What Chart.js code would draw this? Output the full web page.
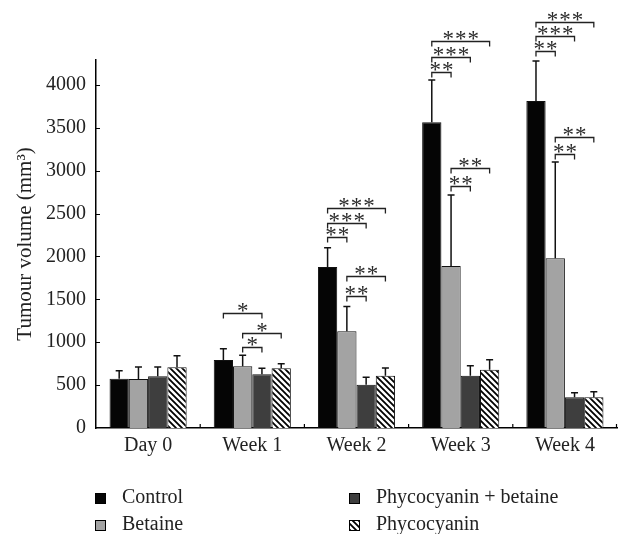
<!DOCTYPE html>
<html>
<head>
<meta charset="utf-8">
<script src="https://cdn.jsdelivr.net/npm/chart.js@4.4.1/dist/chart.umd.min.js"></script>
<style>
  html, body { margin: 0; padding: 0; background: #fff; }
  .chart-box { width: 618px; height: 534px; }
</style>
</head>
<body>
<div class="chart-box"><canvas id="tumourChart"></canvas></div>
<script>
// values (mm^3), error bars are one-sided (upper)
const categories = ['Day 0', 'Week 1', 'Week 2', 'Week 3', 'Week 4'];
const seriesNames = ['Control', 'Betaine', 'Phycocyanin + betaine', 'Phycocyanin'];

const control = [575, 793, 1878, 3565, 3813];
const controlErr = [93, 132, 224, 493, 466];
const betaine = [571, 719, 1127, 1889, 1979];
const betaineErr = [140, 128, 288, 828, 1121];
const phycoBetaine = [603, 626, 505, 610, 358];
const phycoBetaineErr = [108, 70, 86, 116, 54];
const phycocyanin = [708, 696, 610, 680, 358];
const phycocyaninErr = [135, 54, 90, 116, 65];

const yTicks = [0, 500, 1000, 1500, 2000, 2500, 3000, 3500, 4000];

// significance: [category, from series, to series, bracket height, number of stars]
const sigBrackets = [
  [1, 0, 2, 1337, 1],
  [1, 1, 3, 1111, 1],
  [1, 1, 2, 941, 1],
  [2, 0, 1, 2231, 2],
  [2, 0, 2, 2394, 3],
  [2, 0, 3, 2562, 3],
  [2, 1, 2, 1539, 2],
  [2, 1, 3, 1772, 2],
  [3, 0, 1, 4155, 2],
  [3, 0, 2, 4322, 3],
  [3, 0, 3, 4512, 3],
  [3, 1, 2, 2822, 2],
  [3, 1, 3, 3032, 2],
  [4, 0, 1, 4399, 2],
  [4, 0, 2, 4574, 3],
  [4, 0, 3, 4737, 3],
  [4, 1, 2, 3195, 2],
  [4, 1, 3, 3390, 2],
];

const serif = 'Liberation Serif';

// diagonal hatch for phycocyanin
function makeHatch() {
  const s = 6;
  const c = document.createElement('canvas');
  c.width = s; c.height = s;
  const g = c.getContext('2d');
  g.fillStyle = '#fff';
  g.fillRect(0, 0, s, s);
  g.strokeStyle = '#000';
  g.lineWidth = 1.8;
  g.beginPath();
  g.moveTo(-1, -1); g.lineTo(s + 1, s + 1);
  g.moveTo(-1, s - 1); g.lineTo(1, s + 1);
  g.moveTo(s - 1, -1); g.lineTo(s + 1, 1);
  g.stroke();
  return g.createPattern(c, 'repeat');
}
const hatch = makeHatch();

const errors = [controlErr, betaineErr, phycoBetaineErr, phycocyaninErr];

const errorBars = {
  id: 'errorBars',
  afterDatasetsDraw(chart) {
    const ctx = chart.ctx;
    const y = chart.scales.y;
    ctx.save();
    ctx.strokeStyle = '#111';
    ctx.lineWidth = 1.5;
    chart.data.datasets.forEach((ds, i) => {
      chart.getDatasetMeta(i).data.forEach((bar, j) => {
        const top = y.getPixelForValue(ds.data[j] + errors[i][j]);
        ctx.beginPath();
        ctx.moveTo(bar.x, bar.y);
        ctx.lineTo(bar.x, top);
        ctx.moveTo(bar.x - 3.5, top);
        ctx.lineTo(bar.x + 3.5, top);
        ctx.stroke();
      });
    });
    ctx.restore();
  }
};

const significance = {
  id: 'significance',
  afterDatasetsDraw(chart) {
    const ctx = chart.ctx;
    const y = chart.scales.y;
    ctx.save();
    ctx.strokeStyle = '#222';
    ctx.fillStyle = '#2a2a2a';
    ctx.lineWidth = 1.3;
    ctx.font = '23px "' + serif + '"';
    ctx.textAlign = 'center';
    ctx.textBaseline = 'alphabetic';
    sigBrackets.forEach(([cat, a, b, level, n]) => {
      const x1 = chart.getDatasetMeta(a).data[cat].x;
      const x2 = chart.getDatasetMeta(b).data[cat].x;
      const py = Math.round(y.getPixelForValue(level)) + 0.5;
      ctx.beginPath();
      ctx.moveTo(x1, py + 5);
      ctx.lineTo(x1, py);
      ctx.lineTo(x2, py);
      ctx.lineTo(x2, py + 5);
      ctx.stroke();
      const mid = (x1 + x2) / 2;
      for (let k = 0; k < n; k++) {
        ctx.fillText('*', mid + (k - (n - 1) / 2) * 12.5, py + 4);
      }
    });
    ctx.restore();
  }
};

// small inward ticks like the original figure
const innerTicks = {
  id: 'innerTicks',
  afterDraw(chart) {
    const ctx = chart.ctx;
    const { left, bottom, right } = chart.chartArea;
    const x = chart.scales.x;
    const y = chart.scales.y;
    ctx.save();
    ctx.strokeStyle = '#000';
    ctx.lineWidth = 1.2;
    ctx.beginPath();
    yTicks.forEach(v => {
      if (v === 0) return;
      const py = Math.round(y.getPixelForValue(v)) + 0.5;
      ctx.moveTo(left, py);
      ctx.lineTo(left + 4, py);
    });
    for (let i = 0; i < categories.length; i++) {
      const px = i < categories.length - 1
        ? (x.getPixelForValue(i) + x.getPixelForValue(i + 1)) / 2
        : right - 0.5;
      ctx.moveTo(px, bottom);
      ctx.lineTo(px, bottom - 4);
    }
    ctx.stroke();
    ctx.restore();
  }
};

// two-column legend under the axis
const boxLegend = {
  id: 'boxLegend',
  afterDraw(chart) {
    const ctx = chart.ctx;
    const spots = [[95, 498], [95, 525], [349, 498], [349, 525]];
    ctx.save();
    ctx.font = '20px "' + serif + '"';
    ctx.textBaseline = 'middle';
    ctx.textAlign = 'left';
    chart.data.datasets.forEach((ds, i) => {
      const [bx, cy] = spots[i];
      ctx.fillStyle = ds.backgroundColor;
      ctx.fillRect(bx, cy - 5, 10, 10);
      ctx.strokeStyle = '#000';
      ctx.lineWidth = 1;
      ctx.strokeRect(bx + 0.5, cy - 4.5, 10, 10);
      ctx.fillStyle = '#222';
      ctx.fillText(ds.label, bx + 27, cy);
    });
    ctx.restore();
  }
};

const barStyle = { borderColor: '#111', borderWidth: 1, categoryPercentage: 0.74, barPercentage: 1 };

new Chart(document.getElementById('tumourChart'), {
  type: 'bar',
  data: {
    labels: categories,
    datasets: [
      { label: seriesNames[0], data: control, backgroundColor: '#050505', ...barStyle },
      { label: seriesNames[1], data: betaine, backgroundColor: '#a3a3a3', ...barStyle },
      { label: seriesNames[2], data: phycoBetaine, backgroundColor: '#3e3e3e', ...barStyle },
      { label: seriesNames[3], data: phycocyanin, backgroundColor: hatch, ...barStyle },
    ],
  },
  options: {
    responsive: true,
    maintainAspectRatio: false,
    animation: false,
    layout: { padding: { top: 60, right: 1, bottom: 76, left: 0 } },
    plugins: {
      legend: { display: false },
      tooltip: { enabled: false },
    },
    scales: {
      x: {
        grid: { display: false, drawTicks: false },
        border: { display: true, color: '#000', width: 1.5 },
        ticks: { color: '#222', padding: 6, font: { family: serif, size: 20 } },
        afterFit(scale) { scale.height = 30; },
      },
      y: {
        min: 0,
        max: 4290,
        grid: { display: false, drawTicks: false },
        border: { display: true, color: '#000', width: 1.5 },
        ticks: {
          stepSize: 500,
          color: '#222',
          padding: 10,
          font: { family: serif, size: 20 },
          callback: v => String(v),
        },
        afterBuildTicks(scale) {
          scale.ticks = yTicks.map(v => ({ value: v }));
        },
        title: {
          display: true,
          text: 'Tumour volume (mm³)',
          color: '#222',
          padding: { top: 13, bottom: 0 },
          font: { family: serif, size: 21 },
        },
        afterFit(scale) { scale.width = 96; },
      },
    },
  },
  plugins: [errorBars, significance, innerTicks, boxLegend],
});
</script>
</body>
</html>
